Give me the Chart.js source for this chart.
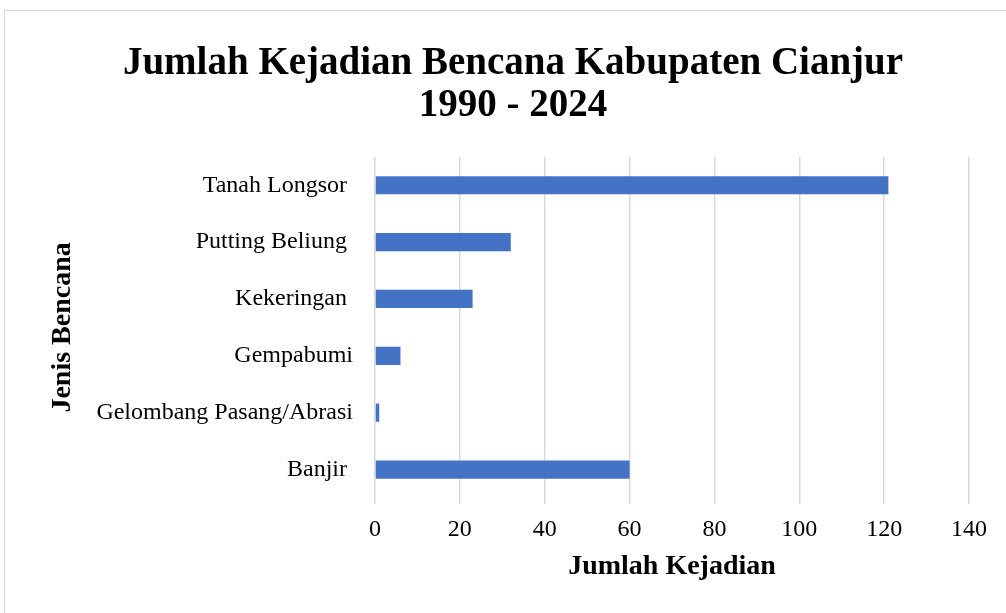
<!DOCTYPE html>
<html>
<head>
<meta charset="utf-8">
<script src="https://cdn.jsdelivr.net/npm/chart.js@4.4.1/dist/chart.umd.min.js"></script>
<style>
  html, body { margin: 0; padding: 0; background: #fff; }
  #wrap { position: relative; width: 1006px; height: 613px; overflow: hidden; }
  #frame { position: absolute; left: 4px; top: 10px; width: 1020px; height: 620px; border: 1px solid #d9d9d9; pointer-events: none; }
  canvas { position: absolute; left: 0; top: 0; }
</style>
</head>
<body>
<div id="wrap">
  <canvas id="c" width="1006" height="613"></canvas>
  <div id="frame"></div>
</div>
<script>
const categories = ["Tanah Longsor ", "Putting Beliung ", "Kekeringan ", "Gempabumi", "Gelombang Pasang/Abrasi", "Banjir "];
const values = [121, 32, 23, 6, 1, 60];
const xTicks = [0, 20, 40, 60, 80, 100, 120, 140];
const titleLines = ["Jumlah Kejadian Bencana Kabupaten Cianjur", "1990 - 2024"];
const xTitle = "Jumlah Kejadian";
const yTitle = "Jenis Bencana";

const serif = "'Liberation Serif', 'Times New Roman', serif";

new Chart(document.getElementById('c'), {
  type: 'bar',
  data: {
    labels: categories,
    datasets: [{
      data: values,
      backgroundColor: '#4472C4',
      borderWidth: 0,
      barPercentage: 0.32,
      categoryPercentage: 1.0
    }]
  },
  options: {
    indexAxis: 'y',
    responsive: false,
    animation: false,
    devicePixelRatio: 1,
    layout: { padding: { left: 20, right: 0, top: 0, bottom: 0 } },
    plugins: {
      legend: { display: false },
      tooltip: { enabled: false },
      title: {
        display: true,
        text: titleLines,
        color: '#000',
        font: { family: serif, size: 39, weight: 'bold', lineHeight: 1.1 },
        padding: { top: 42, bottom: 29 }
      }
    },
    scales: {
      x: {
        min: xTicks[0],
        max: xTicks[xTicks.length - 1],
        afterBuildTicks: (s) => { s.ticks = xTicks.map(v => ({ value: v })); },
        afterFit: (s) => { s.height = 613 - 498; s.paddingRight = 37; s.paddingLeft = 0; },
        border: { display: false },
        grid: { color: '#d9d9d9', lineWidth: 1.5, drawTicks: true, tickLength: 6, tickColor: '#d9d9d9' },
        ticks: { color: '#000', padding: 11, font: { family: serif, size: 24 } },
        title: {
          display: true, text: xTitle, color: '#000',
          font: { family: serif, size: 28, weight: 'bold' },
          padding: { top: 0, bottom: 29 }
        }
      },
      y: {
        afterFit: (s) => { s.width = 355; },
        border: { display: false },
        grid: { display: false, drawTicks: false },
        ticks: { color: '#000', padding: 22, font: { family: serif, size: 24 } },
        title: {
          display: true, text: yTitle, color: '#000',
          font: { family: serif, size: 28, weight: 'bold' },
          padding: { top: 26, bottom: 0 }
        }
      }
    }
  }
});
</script>
</body>
</html>
